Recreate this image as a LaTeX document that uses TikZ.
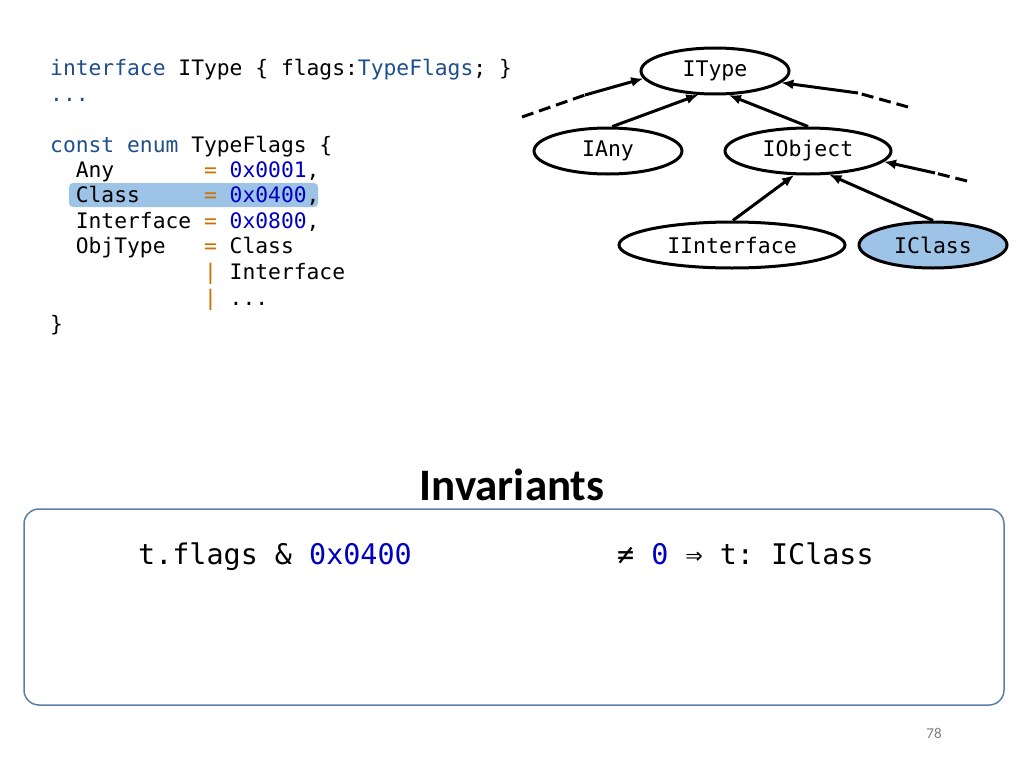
\documentclass[tikz,border=0pt]{standalone}
\usepackage{fontspec}
\setmainfont{Carlito}
\setmonofont{DejaVu Sans Mono}
\usetikzlibrary{shapes.geometric,arrows.meta}
\definecolor{kwblue}{HTML}{1F4E8C}
\definecolor{numblue}{HTML}{0000C0}
\definecolor{oporange}{HTML}{CC7000}
\definecolor{hlblue}{HTML}{9DC3E6}
\definecolor{boxline}{HTML}{5B7FA8}
\newcommand{\kw}[1]{\textcolor{kwblue}{#1}}
\newcommand{\num}[1]{\textcolor{numblue}{#1}}
\newcommand{\op}[1]{\textcolor{oporange}{#1}}
\tikzset{
  code/.style={anchor=base west, inner sep=0pt, font=\fontsize{21.3}{25}\ttfamily},
  type/.style={ellipse, draw, line width=3pt, minimum height=46pt, inner sep=0pt, font=\fontsize{21.5}{25}\ttfamily},
  inh/.style={line width=3pt, -{Latex[length=12pt,width=10pt]}},
  open/.style={line width=3pt, dash pattern=on 12pt off 6pt}
}
\begin{document}
\begin{tikzpicture}[x=1pt,y=-1pt]
        \useasboundingbox (0,0) rectangle (1024,768);

        % Code
        \fill[hlblue, rounded corners=4pt] (69,183) rectangle (318,207);
        \node[code] (l1) at (50,75) {\kw{interface}~IType~\{~flags:\kw{TypeFlags};~\}};
        \node[code] (l2) at (50,101) {\kw{...}};
        \node[code] (l3) at (50,152) {\kw{const}~\kw{enum}~TypeFlags~\{};
        \node[code] (l4) at (50,177) {~~Any~~~~~~~\op{=}~\num{0x0001},};
        \node[code] (l5) at (50,202) {~~Class~~~~~\op{=}~\num{0x0400},};
        \node[code] (l6) at (50,228) {~~Interface~\op{=}~\num{0x0800},};
        \node[code] (l7) at (50,253) {~~ObjType~~~\op{=}~Class};
        \node[code] (l8) at (50,279) {~~~~~~~~~~~~\op{|}~Interface};
        \node[code] (l9) at (50,305) {~~~~~~~~~~~~\op{|}~...};
        \node[code] (l10) at (50,331) {\}};

        % Type hierarchy
        \node[type, minimum width=148pt] (itype) at (715,71) {IType};
        \node[type, minimum width=148pt] (iany) at (608,151) {IAny};
        \node[type, minimum width=166pt] (iobject) at (808,151) {IObject};
        \node[type, minimum width=226pt] (iinterface) at (732,245) {IInterface};
        \node[type, minimum width=148pt, fill=hlblue] (iclass) at (933,245) {IClass};

        \draw[inh] (iany.80) -- (itype.235);
        \draw[inh] (iobject.90) -- (itype.300);
        \draw[inh] (iinterface.88) -- (iobject.240);
        \draw[inh] (iclass.90) -- (iobject.312);

        % Open ends
        \coordinate (d1) at (522,117);
        \coordinate (m1) at (585,95);
        \coordinate (d2) at (908,107);
        \coordinate (m2) at (858,93);
        \coordinate (d3) at (967,181);
        \coordinate (m3) at (935,173);
        \draw[open] (d1) -- (m1);
        \draw[inh] (m1) -- (itype.186);
        \draw[open] (d2) -- (m2);
        \draw[inh] (m2) -- (itype.350);
        \draw[open] (d3) -- (m3);
        \draw[inh] (m3) -- (iobject.352);

        % Invariants
        \node[font=\fontsize{45}{50}\bfseries] (title) at (512,485) {Invariants};
        \draw[boxline, line width=1.5pt, rounded corners=15pt] (24,509) rectangle (1004,705);
        \node[code, font=\fontsize{28.4}{32}\ttfamily] (inv1) at (138,564) {t.flags~\&~\num{0x0400}};
        \node[code, font=\fontsize{28.4}{32}\ttfamily] (inv2) at (617,564) {≠~\num{0}~⇒~t:~IClass};

        \node[text=gray, font=\fontsize{15}{17}\selectfont] (page) at (934,733) {78};
\end{tikzpicture}
\end{document}
